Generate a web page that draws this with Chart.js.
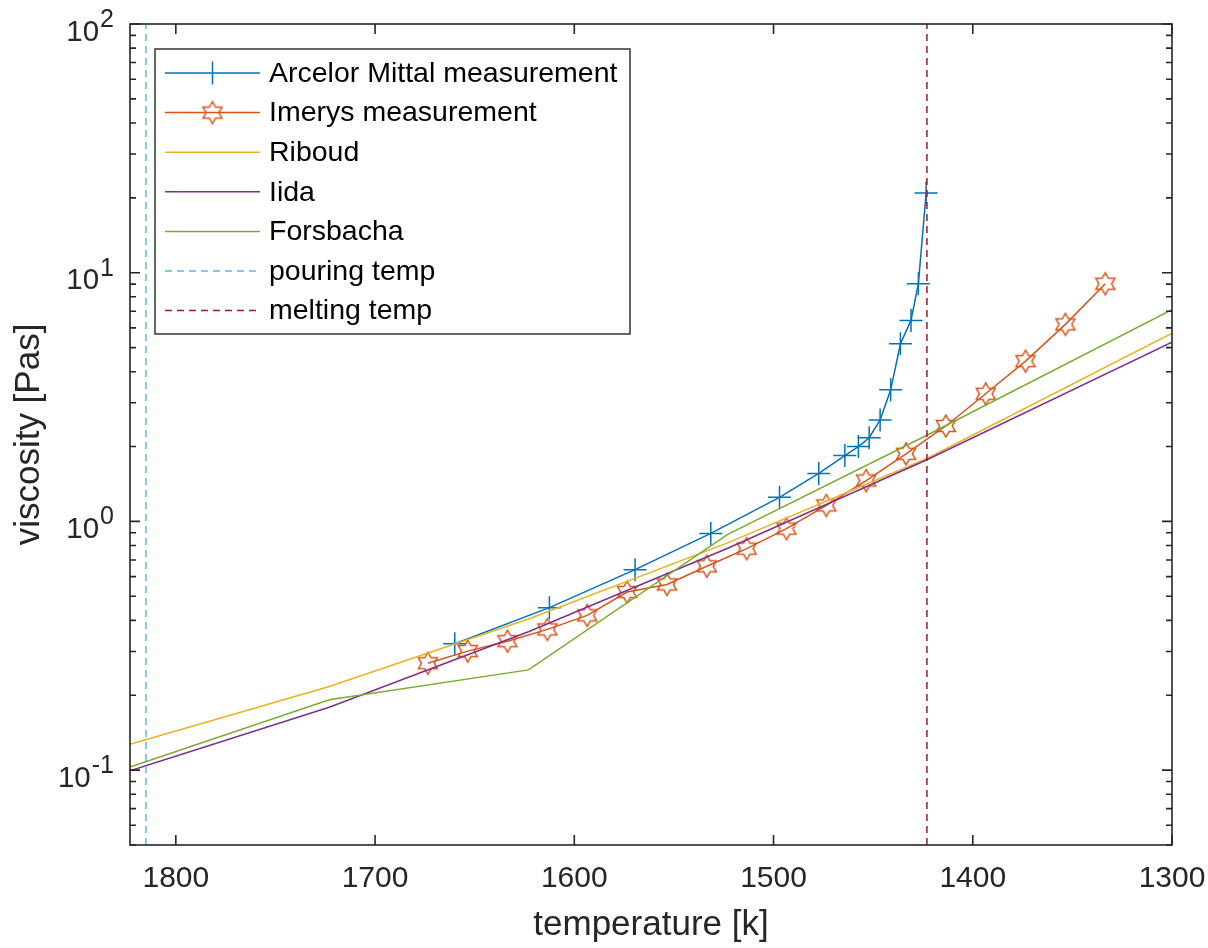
<!DOCTYPE html>
<html>
<head>
<meta charset="utf-8">
<script src="https://cdn.jsdelivr.net/npm/chart.js@4"></script>
<style>
  html, body { margin: 0; padding: 0; background: #fff; }
  #wrap { width: 1208px; height: 948px; }
</style>
</head>
<body>
<div id="wrap"><canvas id="viscosityChart" width="1208" height="948"></canvas></div>
<script>
// Measured data (temperature in K, viscosity in Pa s)
const arcelorTemp = [1660, 1612.5, 1569.5, 1531.5, 1497, 1477.3, 1464.2, 1457.4, 1452, 1446.5, 1441.2, 1436.3, 1431, 1427.3, 1423.4];
const arcelorVisc = [0.322, 0.45, 0.64, 0.895, 1.25, 1.56, 1.84, 2.0, 2.17, 2.56, 3.38, 5.18, 6.43, 9.03, 20.9];

const imerysTemp = [1673.5, 1653.5, 1633.5, 1613.5, 1593.5, 1573.5, 1553.5, 1533.5, 1513.5, 1493.5, 1473.5, 1453.5, 1433.5, 1413.5, 1393.5, 1373.5, 1353.5, 1333.5];
const imerysVisc = [0.269, 0.301, 0.33, 0.368, 0.419, 0.52, 0.558, 0.66, 0.777, 0.935, 1.16, 1.46, 1.87, 2.42, 3.26, 4.41, 6.2, 9.03];

// Model curves
const modelTemp = [1823, 1723, 1623, 1523, 1423, 1300];
const riboudVisc = [0.127, 0.217, 0.405, 0.82, 1.79, 5.72];
const iidaVisc = [0.0995, 0.179, 0.36, 0.78, 1.77, 5.26];
const forsbachaVisc = [0.103, 0.192, 0.253, 0.887, 2.22, 7.1];

// Reference temperatures
const pouringTemp = 1815;
const meltingTemp = 1423;

// Axes
const xTicks = [1800, 1700, 1600, 1500, 1400, 1300];
const yMajorTicks = [0.1, 1, 10, 100];
const yTickExponents = ['-1', '0', '1', '2'];
const xRange = [1300, 1823];
const yRange = [0.05, 100];

const FONT = "'Liberation Sans', Arial, Helvetica, sans-serif";
const AXIS_COLOR = '#262626';

function toPoints(xs, ys) {
    return xs.map((x, i) => ({ x: x, y: ys[i] }));
}

// MATLAB style hexagram marker
function makeHexagram(r, color) {
    const size = Math.ceil(2 * r + 4);
    const c = document.createElement('canvas');
    c.width = size;
    c.height = size;
    const ctx = c.getContext('2d');
    ctx.strokeStyle = color;
    ctx.lineWidth = 1.5;
    ctx.beginPath();
    for (let i = 0; i < 12; i++) {
        const a = -Math.PI / 2 + i * Math.PI / 6;
        const rr = i % 2 === 0 ? r : r / Math.sqrt(3);
        const px = size / 2 + rr * Math.cos(a);
        const py = size / 2 + rr * Math.sin(a);
        if (i === 0) ctx.moveTo(px, py); else ctx.lineTo(px, py);
    }
    ctx.closePath();
    ctx.stroke();
    return c;
}
const hexagram = makeHexagram(11, '#D95319');

// minor ticks for log axis
const yAllTicks = [];
for (let e = -2; e <= 2; e++) {
    for (let m = 1; m <= 9; m++) {
        const v = m * Math.pow(10, e);
        if (v >= yRange[0] - 1e-9 && v <= yRange[1] + 1e-9) yAllTicks.push(+v.toPrecision(3));
    }
}

// box with inward ticks on all four sides, plus 10^n labels
const axisBox = {
    id: 'axisBox',
    afterDatasetsDraw(chart) {
        const { ctx, chartArea: a, scales } = chart;
        ctx.save();
        ctx.strokeStyle = AXIS_COLOR;
        ctx.lineWidth = 1.6;
        ctx.strokeRect(a.left, a.top, a.right - a.left, a.bottom - a.top);
        ctx.beginPath();
        xTicks.forEach(v => {
            const px = scales.x.getPixelForValue(v);
            ctx.moveTo(px, a.bottom); ctx.lineTo(px, a.bottom - 10);
            ctx.moveTo(px, a.top); ctx.lineTo(px, a.top + 10);
        });
        yAllTicks.forEach(v => {
            const py = scales.y.getPixelForValue(v);
            const len = yMajorTicks.some(m => Math.abs(m - v) < 1e-9) ? 10 : 6;
            ctx.moveTo(a.left, py); ctx.lineTo(a.left + len, py);
            ctx.moveTo(a.right, py); ctx.lineTo(a.right - len, py);
        });
        ctx.stroke();

        // log tick labels with raised exponent
        ctx.fillStyle = AXIS_COLOR;
        ctx.textBaseline = 'alphabetic';
        const xRight = a.left - 16;
        yMajorTicks.forEach((v, i) => {
            const py = scales.y.getPixelForValue(v);
            const exp = yTickExponents[i];
            ctx.font = '25px ' + FONT;
            const wExp = ctx.measureText(exp).width;
            ctx.textAlign = 'left';
            ctx.fillText(exp, xRight - wExp, py + 3);
            ctx.font = '29.5px ' + FONT;
            ctx.textAlign = 'right';
            ctx.fillText('10', xRight - wExp - 1, py + 16.5);
        });
        ctx.restore();
    }
};

// legend box in the upper left of the axes
const legendBox = {
    id: 'legendBox',
    afterDraw(chart) {
        const ctx = chart.ctx;
        const x0 = 155, y0 = 49, w = 475, h = 285;
        ctx.save();
        ctx.fillStyle = '#fff';
        ctx.fillRect(x0, y0, w, h);
        ctx.strokeStyle = '#333';
        ctx.lineWidth = 1.5;
        ctx.strokeRect(x0, y0, w, h);
        ctx.font = '28.5px ' + FONT;
        ctx.textBaseline = 'middle';
        ctx.fillStyle = '#000';
        chart.data.datasets.forEach((ds, i) => {
            const y = 73 + i * 39.6;
            ctx.strokeStyle = ds.borderColor;
            ctx.lineWidth = 1.5;
            ctx.setLineDash(ds.borderDash || []);
            ctx.beginPath();
            ctx.moveTo(165, y);
            ctx.lineTo(260, y);
            ctx.stroke();
            ctx.setLineDash([]);
            if (ds.pointStyle === 'cross') {
                ctx.beginPath();
                ctx.moveTo(212.5, y - 11.5);
                ctx.lineTo(212.5, y + 11.5);
                ctx.stroke();
            } else if (ds.pointStyle instanceof HTMLCanvasElement) {
                ctx.drawImage(ds.pointStyle, 212.5 - ds.pointStyle.width / 2, y - ds.pointStyle.height / 2);
            }
            ctx.fillText(ds.label, 269, y + 1);
        });
        ctx.restore();
    }
};

const lineBase = {
    borderWidth: 1.5,
    tension: 0,
    fill: false,
    pointRadius: 0,
    pointHoverRadius: 0
};

new Chart(document.getElementById('viscosityChart').getContext('2d'), {
    type: 'line',
    data: {
        datasets: [
            Object.assign({}, lineBase, {
                label: 'Arcelor Mittal measurement',
                data: toPoints(arcelorTemp, arcelorVisc),
                borderColor: '#0072BD',
                pointStyle: 'cross',
                pointRadius: 11.5,
                pointBorderColor: '#0072BD',
                pointBorderWidth: 1.5,
                order: 6
            }),
            Object.assign({}, lineBase, {
                label: 'Imerys measurement',
                data: toPoints(imerysTemp, imerysVisc),
                borderColor: '#D95319',
                pointStyle: hexagram,
                pointRadius: 11,
                order: 5
            }),
            Object.assign({}, lineBase, {
                label: 'Riboud',
                data: toPoints(modelTemp, riboudVisc),
                borderColor: '#EDB120',
                order: 4
            }),
            Object.assign({}, lineBase, {
                label: 'Iida',
                data: toPoints(modelTemp, iidaVisc),
                borderColor: '#7E2F8E',
                order: 3
            }),
            Object.assign({}, lineBase, {
                label: 'Forsbacha',
                data: toPoints(modelTemp, forsbachaVisc),
                borderColor: '#77AC30',
                order: 2
            }),
            Object.assign({}, lineBase, {
                label: 'pouring temp',
                data: toPoints([pouringTemp, pouringTemp], yRange),
                borderColor: '#4DBEEE',
                borderDash: [7, 5],
                order: 1
            }),
            Object.assign({}, lineBase, {
                label: 'melting temp',
                data: toPoints([meltingTemp, meltingTemp], yRange),
                borderColor: '#A2142F',
                borderDash: [7, 5],
                order: 0
            })
        ]
    },
    options: {
        responsive: false,
        animation: false,
        events: [],
        layout: {
            padding: { left: 0, right: 36, top: 24, bottom: 0 }
        },
        plugins: {
            legend: { display: false },
            tooltip: { enabled: false }
        },
        scales: {
            x: {
                type: 'linear',
                reverse: true,
                min: xRange[0],
                max: xRange[1],
                afterBuildTicks: function(scale) {
                    scale.ticks = xTicks.map(v => ({ value: v }));
                },
                afterFit: function(scale) {
                    scale.height = 103;
                    scale.paddingLeft = 0;
                    scale.paddingRight = 0;
                },
                grid: { display: false, drawTicks: false },
                border: { display: false },
                ticks: {
                    autoSkip: false,
                    maxRotation: 0,
                    padding: 16,
                    color: AXIS_COLOR,
                    font: { family: FONT, size: 30 },
                    callback: function(value) {
                        return String(value);
                    }
                },
                title: {
                    display: true,
                    text: 'temperature [k]',
                    color: AXIS_COLOR,
                    font: { family: FONT, size: 35 },
                    padding: { top: 0, bottom: 2 }
                }
            },
            y: {
                type: 'logarithmic',
                min: yRange[0],
                max: yRange[1],
                afterBuildTicks: function(scale) {
                    scale.ticks = yAllTicks.map(v => ({ value: v }));
                },
                afterFit: function(scale) {
                    scale.width = 130;
                    scale.paddingTop = 0;
                    scale.paddingBottom = 0;
                },
                grid: { display: false, drawTicks: false },
                border: { display: false },
                ticks: {
                    autoSkip: false,
                    padding: 14,
                    callback: function() {
                        return '';
                    }
                },
                title: {
                    display: true,
                    text: 'viscosity [Pas]',
                    color: AXIS_COLOR,
                    font: { family: FONT, size: 35 },
                    padding: { top: 8, bottom: 0 }
                }
            }
        }
    },
    plugins: [axisBox, legendBox]
});
</script>
</body>
</html>
